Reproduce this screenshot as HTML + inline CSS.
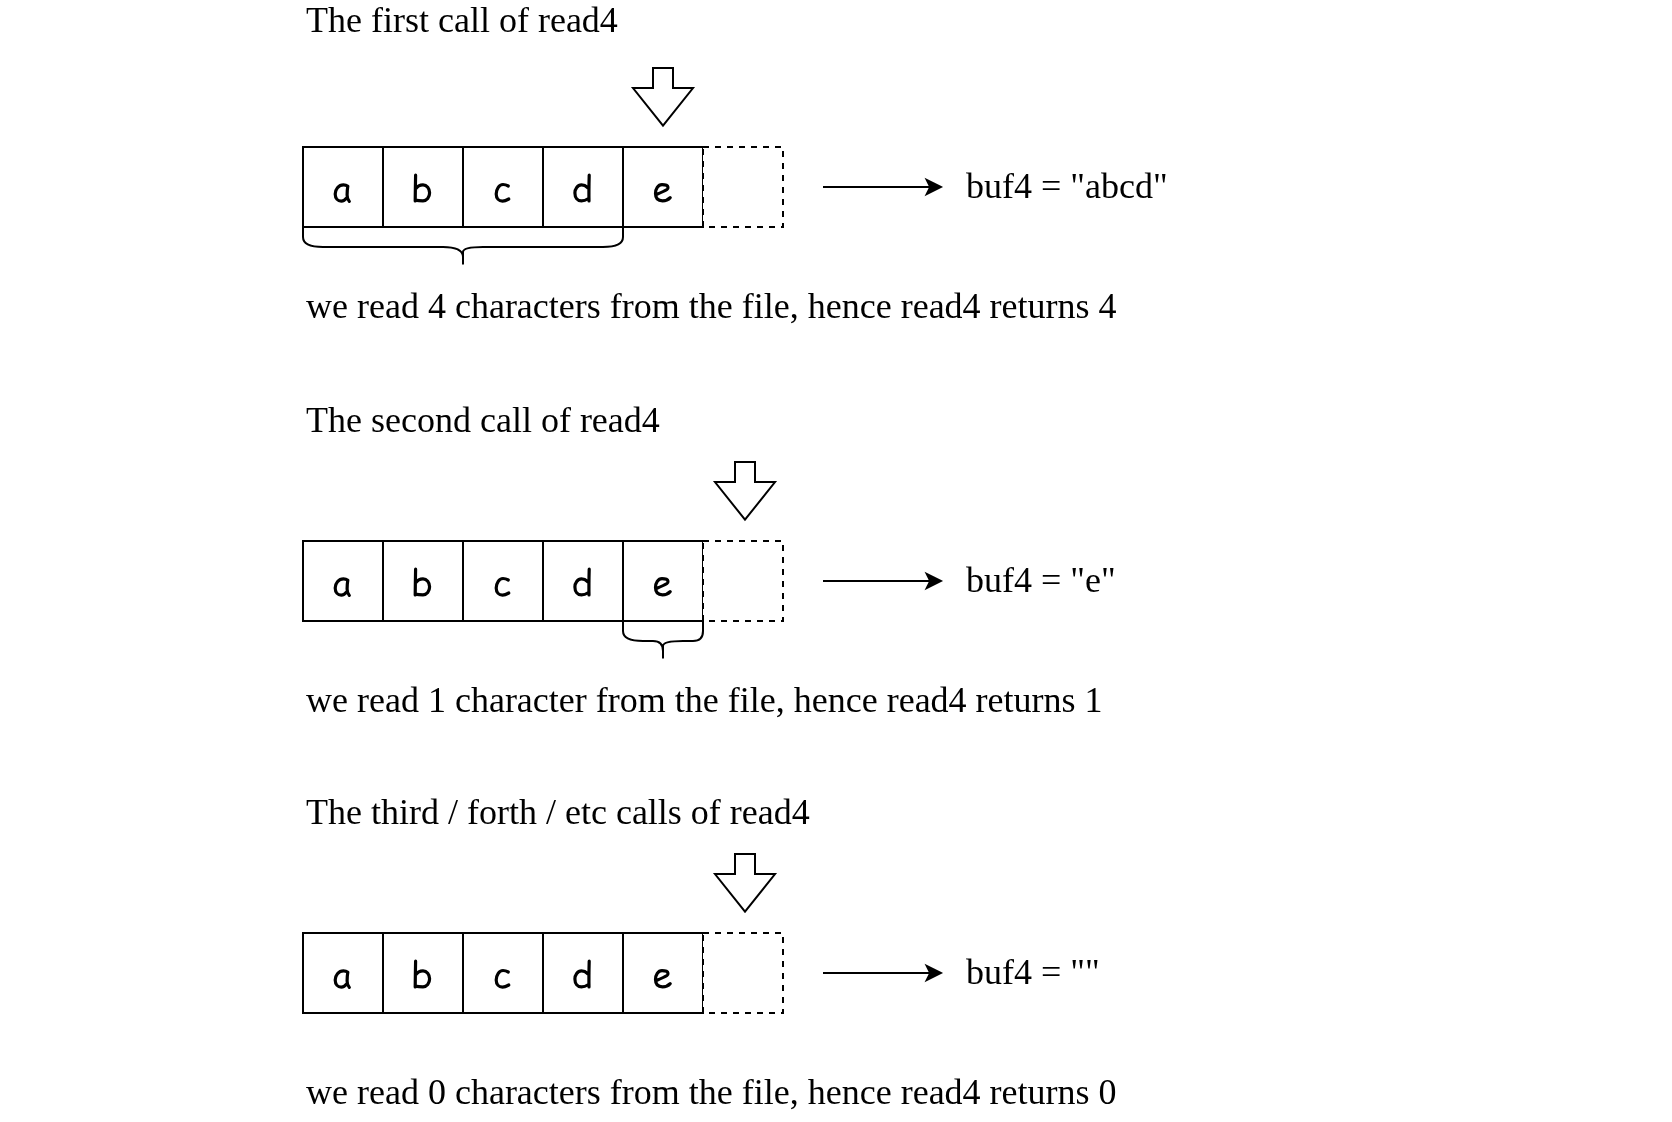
<!DOCTYPE html>
<html><head><meta charset="utf-8"><style>
html,body{margin:0;padding:0;background:#fff;}
svg{display:block;will-change:transform;}
text{font-family:"Liberation Serif",serif;font-size:36px;fill:#000;white-space:pre;}
.o{fill:#fff;stroke:#000;stroke-width:2;}
.f{fill:#000;stroke:#000;stroke-width:2;}
.n{fill:none;stroke:#000;stroke-width:2;}
.g path{fill:none;stroke:#000;stroke-width:3.2;stroke-linecap:round;stroke-linejoin:round;}
</style></head><body>
<svg width="1672" height="1122" viewBox="0 0 1672 1122">
<text x="306" y="31.8">The first call of read4</text>
<path class="o" d="M653,68 H673 V88 H693 L663,125.7 L633,88 H653 Z"/>
<rect class="o" x="303" y="147" width="80" height="80"/>
<rect class="o" x="383" y="147" width="80" height="80"/>
<rect class="o" x="463" y="147" width="80" height="80"/>
<rect class="o" x="543" y="147" width="80" height="80"/>
<rect class="o" x="623" y="147" width="80" height="80"/>
<path class="o" stroke-dasharray="6 6" d="M703,147 H783 V227 H703 Z"/>
<g transform="translate(0,0)"><g class="g">
<path d="M347.8,186.3 C346,184.8 344.5,184.8 343.5,184.8 C338.5,184.8 335.2,189.5 335.2,194 C335.2,198.5 338,201.1 341.2,201.1 C343.5,201.1 345.5,199.5 347.1,197.5 M347.8,186.3 C347.3,189 347.1,192 347.1,195 C347.1,198 348,200 349.3,201.3"/>
<path d="M415.6,175.2 C415.4,183 415.3,193 415.2,201 M415.6,189 C417.3,186.3 420,184.9 423,184.9 C426.8,184.9 429.6,188.5 429.6,192.85 C429.6,197.3 426.8,200.8 423,200.8 C420,200.8 417.5,200.6 415.2,200.2"/>
<path d="M508.3,186 C506.5,185 505,184.5 503,184.5 C499,184.5 496.2,189.5 496.2,194 C496.2,198.5 499,201.1 502.5,201.1 C505,201.1 507,200 508.8,199"/>
<path d="M589.2,175.2 C589,183 588.8,193 589,201 M587.5,187.5 C585.5,185.5 583.5,184.9 581.5,184.9 C577.5,184.9 574.9,189 574.9,193 C574.9,197.5 577.5,200.9 581.5,200.9 C584,200.9 586,200 588.5,198.5"/>
<path d="M657,194.2 C661,192.5 664.5,191 667,189.5 C668.5,188.5 668.2,186 666.5,185.3 C665,184.7 663.5,184.6 662,184.6 C658,184.6 655.5,189 655.5,193.5 C655.5,198.5 658.5,200.8 662.5,200.8 C666,200.8 668.5,199.5 670.2,197.6"/>
</g></g>
<path class="o" d="M823,187 H930"/>
<path class="f" d="M940.8,187 L926.8,180 L930.3,187 L926.8,194 Z"/>
<text x="966" y="197.8">buf4 = "abcd"</text>
<text x="306" y="317.8">we read 4 characters from the file, hence read4 returns 4</text>
<path class="n" d="M303.00,227.00 L303.00,237.00 Q303.00,247.00 323.00,247.00 L443.00,247.00 Q463.00,247.00 463.00,257.00 L463.00,262.00 Q463.00,267.00 463.00,257.00 L463.00,252.00 Q463.00,247.00 483.00,247.00 L603.00,247.00 Q623.00,247.00 623.00,237.00 L623.00,227.00"/>
<text x="306" y="431.8">The second call of read4</text>
<path class="o" d="M735,462 H755 V482 H775 L745,519.7 L715,482 H735 Z"/>
<rect class="o" x="303" y="541" width="80" height="80"/>
<rect class="o" x="383" y="541" width="80" height="80"/>
<rect class="o" x="463" y="541" width="80" height="80"/>
<rect class="o" x="543" y="541" width="80" height="80"/>
<rect class="o" x="623" y="541" width="80" height="80"/>
<path class="o" stroke-dasharray="6 6" d="M703,541 H783 V621 H703 Z"/>
<g transform="translate(0,394)"><g class="g">
<path d="M347.8,186.3 C346,184.8 344.5,184.8 343.5,184.8 C338.5,184.8 335.2,189.5 335.2,194 C335.2,198.5 338,201.1 341.2,201.1 C343.5,201.1 345.5,199.5 347.1,197.5 M347.8,186.3 C347.3,189 347.1,192 347.1,195 C347.1,198 348,200 349.3,201.3"/>
<path d="M415.6,175.2 C415.4,183 415.3,193 415.2,201 M415.6,189 C417.3,186.3 420,184.9 423,184.9 C426.8,184.9 429.6,188.5 429.6,192.85 C429.6,197.3 426.8,200.8 423,200.8 C420,200.8 417.5,200.6 415.2,200.2"/>
<path d="M508.3,186 C506.5,185 505,184.5 503,184.5 C499,184.5 496.2,189.5 496.2,194 C496.2,198.5 499,201.1 502.5,201.1 C505,201.1 507,200 508.8,199"/>
<path d="M589.2,175.2 C589,183 588.8,193 589,201 M587.5,187.5 C585.5,185.5 583.5,184.9 581.5,184.9 C577.5,184.9 574.9,189 574.9,193 C574.9,197.5 577.5,200.9 581.5,200.9 C584,200.9 586,200 588.5,198.5"/>
<path d="M657,194.2 C661,192.5 664.5,191 667,189.5 C668.5,188.5 668.2,186 666.5,185.3 C665,184.7 663.5,184.6 662,184.6 C658,184.6 655.5,189 655.5,193.5 C655.5,198.5 658.5,200.8 662.5,200.8 C666,200.8 668.5,199.5 670.2,197.6"/>
</g></g>
<path class="o" d="M823,581 H930"/>
<path class="f" d="M940.8,581 L926.8,574 L930.3,581 L926.8,588 Z"/>
<text x="966" y="591.8">buf4 = "e"</text>
<text x="306" y="711.8">we read 1 character from the file, hence read4 returns 1</text>
<path class="n" d="M623.00,621.00 L623.00,631.00 Q623.00,641.00 643.00,641.00 L653.00,641.00 Q663.00,641.00 663.00,651.00 L663.00,656.00 Q663.00,661.00 663.00,651.00 L663.00,646.00 Q663.00,641.00 683.00,641.00 L693.00,641.00 Q703.00,641.00 703.00,631.00 L703.00,621.00"/>
<text x="306" y="823.8">The third / forth / etc calls of read4</text>
<path class="o" d="M735,854 H755 V874 H775 L745,911.7 L715,874 H735 Z"/>
<rect class="o" x="303" y="933" width="80" height="80"/>
<rect class="o" x="383" y="933" width="80" height="80"/>
<rect class="o" x="463" y="933" width="80" height="80"/>
<rect class="o" x="543" y="933" width="80" height="80"/>
<rect class="o" x="623" y="933" width="80" height="80"/>
<path class="o" stroke-dasharray="6 6" d="M703,933 H783 V1013 H703 Z"/>
<g transform="translate(0,786)"><g class="g">
<path d="M347.8,186.3 C346,184.8 344.5,184.8 343.5,184.8 C338.5,184.8 335.2,189.5 335.2,194 C335.2,198.5 338,201.1 341.2,201.1 C343.5,201.1 345.5,199.5 347.1,197.5 M347.8,186.3 C347.3,189 347.1,192 347.1,195 C347.1,198 348,200 349.3,201.3"/>
<path d="M415.6,175.2 C415.4,183 415.3,193 415.2,201 M415.6,189 C417.3,186.3 420,184.9 423,184.9 C426.8,184.9 429.6,188.5 429.6,192.85 C429.6,197.3 426.8,200.8 423,200.8 C420,200.8 417.5,200.6 415.2,200.2"/>
<path d="M508.3,186 C506.5,185 505,184.5 503,184.5 C499,184.5 496.2,189.5 496.2,194 C496.2,198.5 499,201.1 502.5,201.1 C505,201.1 507,200 508.8,199"/>
<path d="M589.2,175.2 C589,183 588.8,193 589,201 M587.5,187.5 C585.5,185.5 583.5,184.9 581.5,184.9 C577.5,184.9 574.9,189 574.9,193 C574.9,197.5 577.5,200.9 581.5,200.9 C584,200.9 586,200 588.5,198.5"/>
<path d="M657,194.2 C661,192.5 664.5,191 667,189.5 C668.5,188.5 668.2,186 666.5,185.3 C665,184.7 663.5,184.6 662,184.6 C658,184.6 655.5,189 655.5,193.5 C655.5,198.5 658.5,200.8 662.5,200.8 C666,200.8 668.5,199.5 670.2,197.6"/>
</g></g>
<path class="o" d="M823,973 H930"/>
<path class="f" d="M940.8,973 L926.8,966 L930.3,973 L926.8,980 Z"/>
<text x="966" y="983.8">buf4 = ""</text>
<text x="306" y="1103.8">we read 0 characters from the file, hence read4 returns 0</text>
</svg>
</body></html>
